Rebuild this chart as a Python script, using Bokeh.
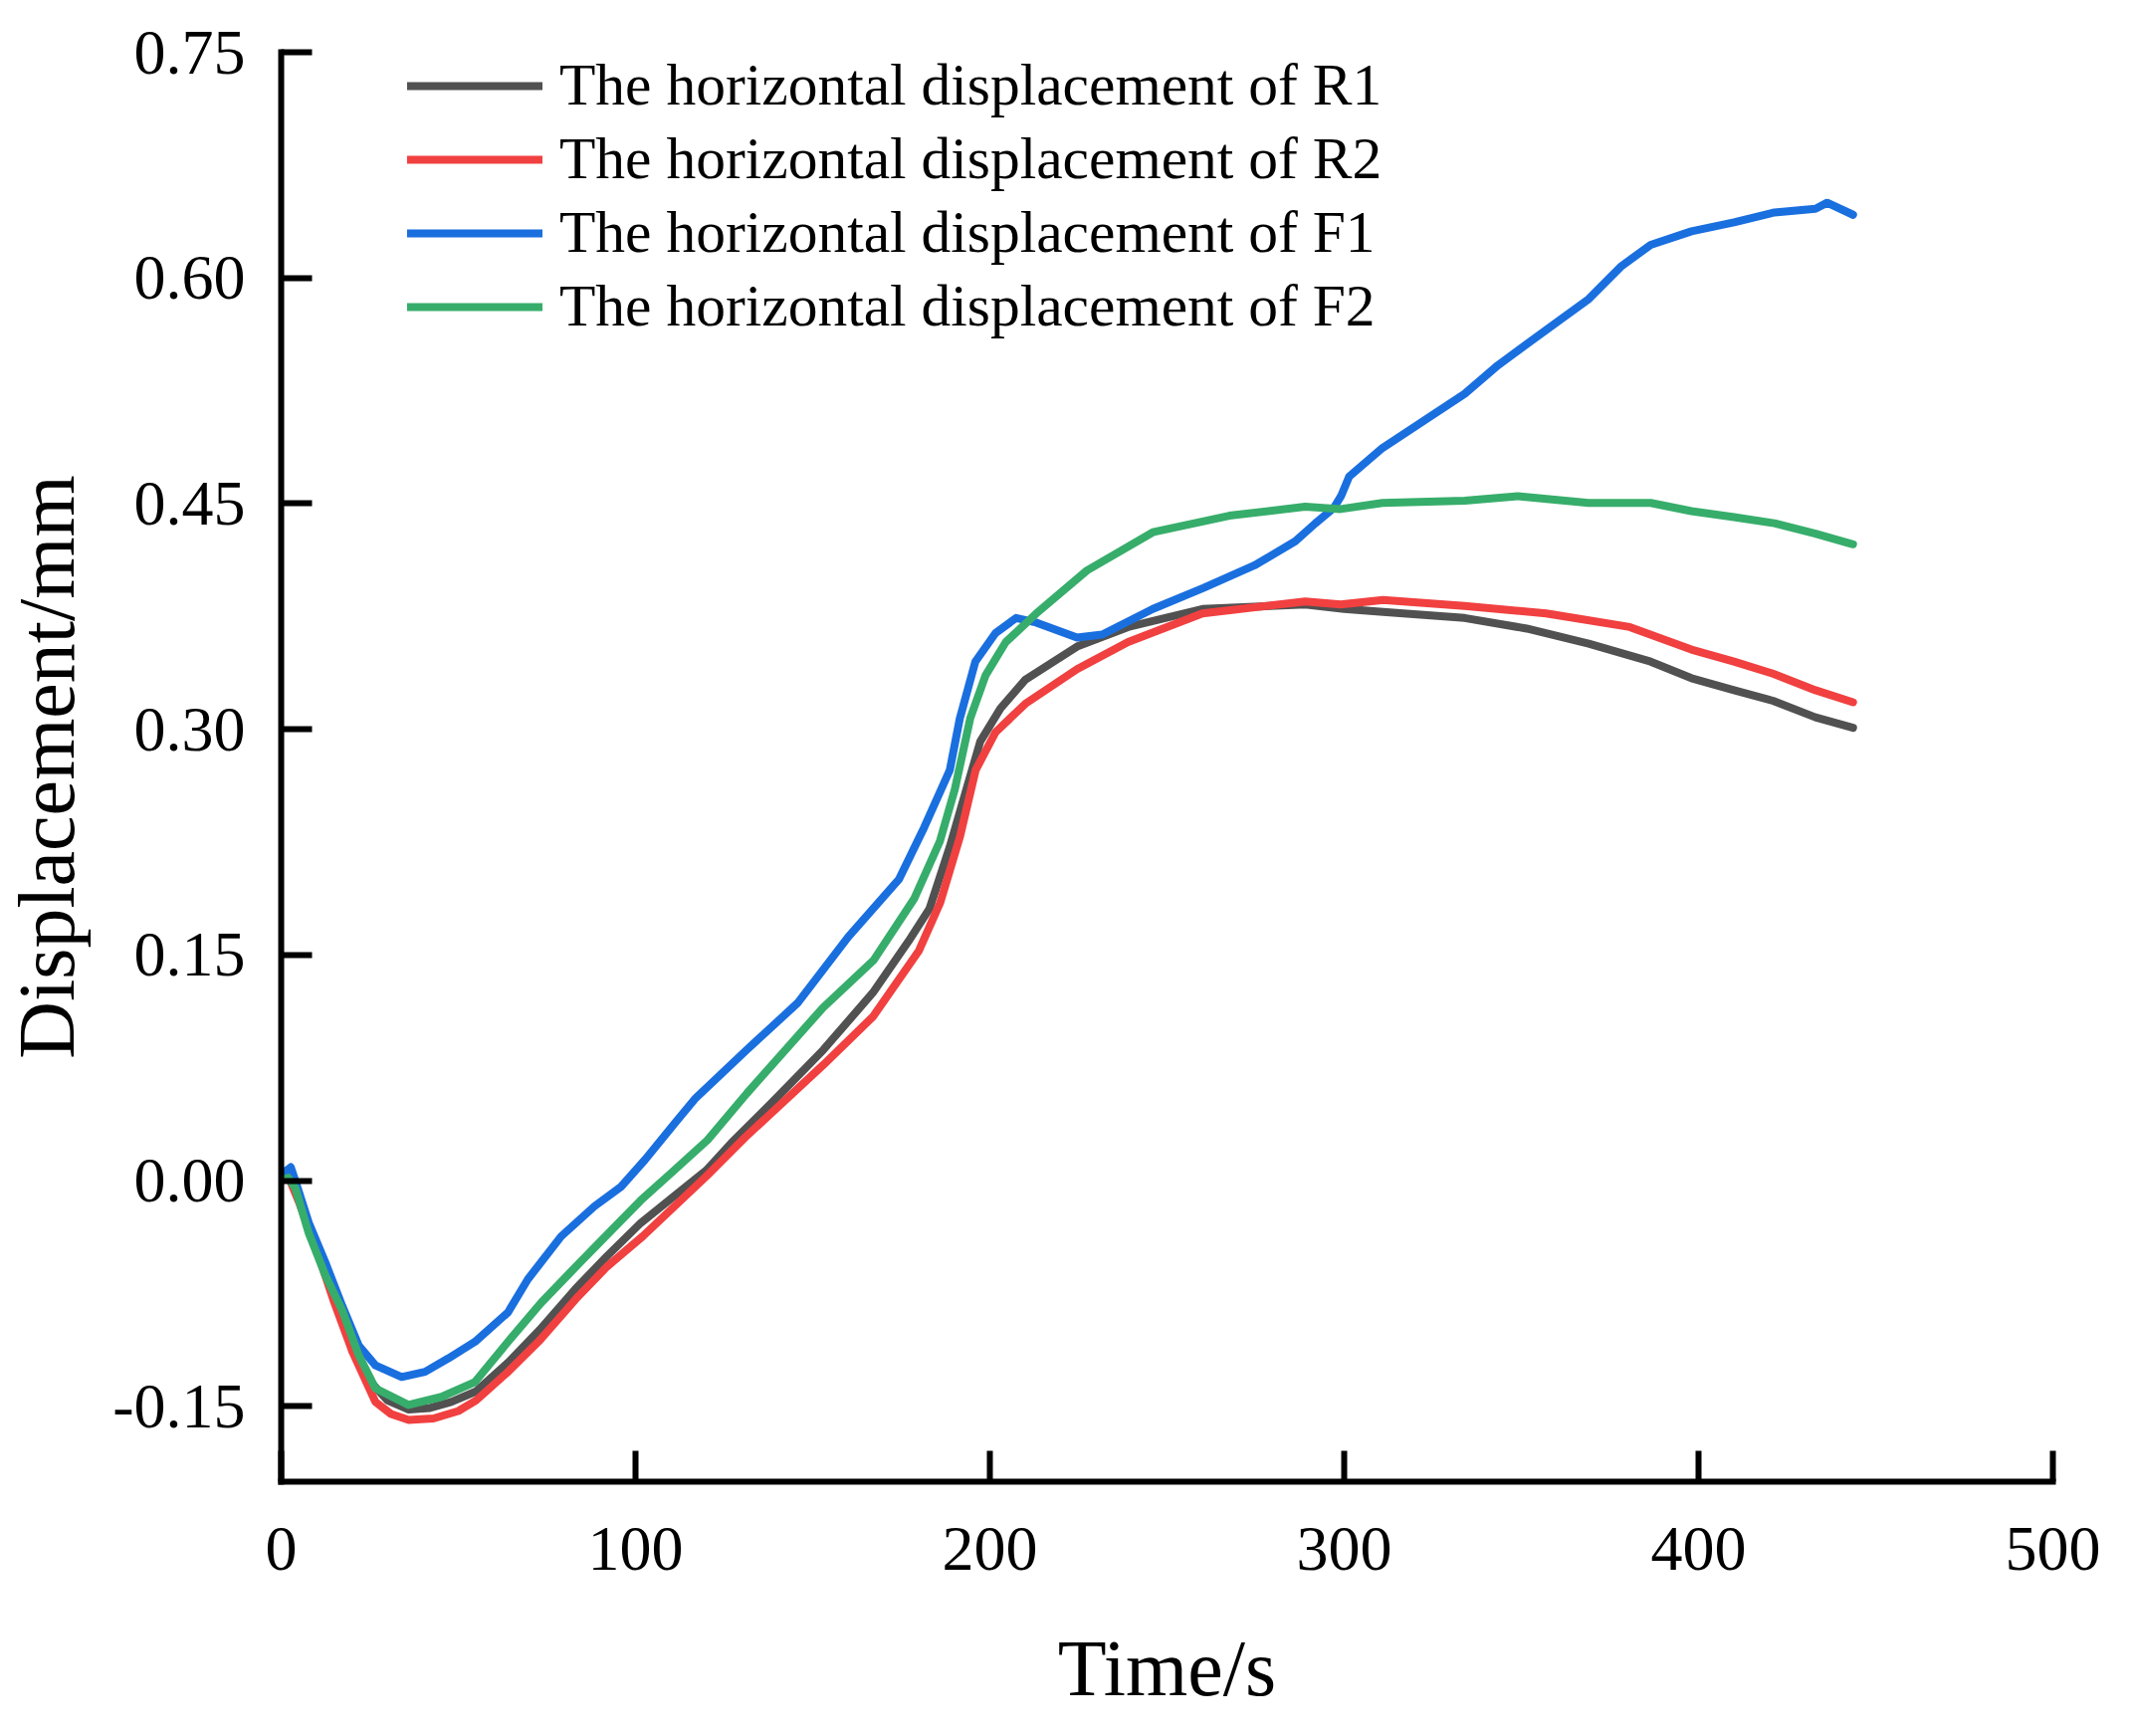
from bokeh.plotting import figure
from bokeh.models import Range1d, FixedTicker, NumeralTickFormatter, Legend, LegendItem
from bokeh.embed import file_html
from bokeh.resources import INLINE

# ---- data ----
t_r1 = [0, 2, 5, 10, 15, 20, 25, 30, 36, 42, 48, 55, 64, 73, 83, 92, 101.5, 111, 120, 127,
        138.5, 153, 167, 177, 183, 188.7, 193, 197.3, 203, 210, 224.6, 239, 260, 289, 300,
        311, 334, 351.5, 369, 386.5, 398, 410, 421, 433, 443.6]
v_r1 = [0.0, 0.004, -0.012, -0.043, -0.078, -0.110, -0.133, -0.146, -0.152, -0.151, -0.147,
        -0.140, -0.121, -0.099, -0.072, -0.050, -0.028, -0.010, 0.007, 0.025, 0.052, 0.087,
        0.125, 0.159, 0.181, 0.222, 0.257, 0.292, 0.314, 0.333, 0.355, 0.368, 0.380, 0.383,
        0.380, 0.378, 0.374, 0.367, 0.357, 0.345, 0.334, 0.326, 0.319, 0.308, 0.301]

t_r2 = [0, 2, 5, 10, 15, 20, 26.6, 31, 36, 43, 50, 55, 64, 73, 83, 92, 102, 111, 120, 131,
        153, 167, 180, 186, 191.6, 196, 201.6, 210, 224.6, 239, 260, 289, 299, 311, 334, 357,
        380.6, 398, 410, 421, 433, 443.6]
v_r2 = [0.0, 0.003, -0.014, -0.046, -0.081, -0.113, -0.147, -0.155, -0.159, -0.158, -0.153,
        -0.146, -0.127, -0.106, -0.079, -0.057, -0.037, -0.017, 0.003, 0.029, 0.077, 0.109,
        0.153, 0.185, 0.229, 0.273, 0.298, 0.317, 0.340, 0.358, 0.377, 0.385, 0.383, 0.386,
        0.382, 0.377, 0.368, 0.353, 0.345, 0.337, 0.326, 0.318]

t_f1 = [0, 1, 2.7, 4, 7.8, 12.5, 17.2, 21.9, 26.6, 34, 40.6, 47.2, 54.7, 64, 69.6, 79, 88.4,
        95.9, 102.7, 111, 117, 131.4, 145.7, 160, 174.4, 181.5, 188.7, 191.5, 195.9, 201.6,
        207.4, 213.1, 224.6, 231.7, 246, 260.3, 274.7, 286.2, 291.9, 297, 299.1, 301.4, 310.8,
        322.4, 334, 343.4, 351.5, 359.7, 369, 378.3, 386.5, 398, 410, 421.4, 433, 436.3, 443.6]
v_f1 = [0.0, 0.006, 0.009, 0.0, -0.028, -0.0545, -0.083, -0.1095, -0.1227, -0.1304, -0.127,
        -0.118, -0.107, -0.0875, -0.0655, -0.037, -0.017, -0.004, 0.014, 0.038, 0.055, 0.087,
        0.118, 0.162, 0.2005, 0.235, 0.273, 0.307, 0.345, 0.364, 0.374, 0.371, 0.361, 0.363,
        0.380, 0.394, 0.409, 0.425, 0.437, 0.447, 0.455, 0.468, 0.487, 0.505, 0.523, 0.542,
        0.556, 0.570, 0.586, 0.608, 0.622, 0.631, 0.637, 0.6435, 0.646, 0.650, 0.642]

t_f2 = [0, 2, 4, 7.8, 12.5, 17.2, 21.9, 26.6, 35.9, 45.3, 54.7, 64, 73.4, 82.8, 91.5, 101.5,
        110, 120.3, 131.4, 152.9, 167.2, 178.7, 185.9, 190.1, 194.5, 198.8, 204.5, 213.1, 227.4,
        246, 267.6, 289, 299, 310.8, 334, 349, 369, 386.5, 398, 410, 421.4, 433, 443.6]
v_f2 = [0.0, 0.002, -0.005, -0.035, -0.063, -0.086, -0.116, -0.138, -0.149, -0.1436, -0.1337,
        -0.107, -0.081, -0.058, -0.037, -0.013, 0.005, 0.027, 0.058, 0.115, 0.1466, 0.1877,
        0.2256, 0.260, 0.3076, 0.336, 0.358, 0.377, 0.4056, 0.431, 0.442, 0.448, 0.4464, 0.4505,
        0.452, 0.455, 0.4505, 0.4505, 0.445, 0.441, 0.437, 0.430, 0.423]

labels = ["The horizontal displacement of R1", "The horizontal displacement of R2",
          "The horizontal displacement of F1", "The horizontal displacement of F2"]
colors = ["#515151", "#F14040", "#1A6FDF", "#37AD6B"]

x_ticks = [0, 100, 200, 300, 400, 500]
y_ticks = [-0.15, 0.0, 0.15, 0.30, 0.45, 0.60, 0.75]

FONT = "Liberation Serif"

p = figure(frame_width=1780, frame_height=1436, output_backend="svg", toolbar_location=None,
           x_range=Range1d(0, 500), y_range=Range1d(-0.2, 0.75),
           min_border_left=279, min_border_top=52, min_border_right=60, min_border_bottom=234)
p.outline_line_color = None
p.xgrid.visible = False
p.ygrid.visible = False
p.background_fill_color = "white"
p.border_fill_color = "white"

series = [(t_r1, v_r1), (t_r2, v_r2), (t_f1, v_f1), (t_f2, v_f2)]
renderers = []
for (tx, vy), c in zip(series, colors):
    r = p.line(tx, vy, line_color=c, line_width=8, line_join="round", line_cap="round")
    renderers.append(r)

for ax in (p.xaxis[0], p.yaxis[0]):
    ax.axis_line_width = 6
    ax.axis_line_color = "black"
    ax.axis_line_cap = "square"
    ax.major_tick_line_width = 6
    ax.major_tick_line_color = "black"
    ax.major_tick_in = 31
    ax.major_tick_out = 0
    ax.minor_tick_in = 0
    ax.minor_tick_out = 0
    ax.major_label_text_font = FONT
    ax.major_label_text_font_size = "64px"
    ax.major_label_text_color = "black"
    ax.axis_label_text_font = FONT
    ax.axis_label_text_font_style = "normal"
    ax.axis_label_text_color = "black"

p.xaxis[0].ticker = FixedTicker(ticks=x_ticks)
p.yaxis[0].ticker = FixedTicker(ticks=y_ticks)
p.yaxis[0].formatter = NumeralTickFormatter(format="0.00")
p.xaxis[0].axis_label = "Time/s"
p.yaxis[0].axis_label = "Displacement/mm"
p.xaxis[0].axis_label_text_font_size = "80px"
p.yaxis[0].axis_label_text_font_size = "80px"
p.xaxis[0].major_label_standoff = 46
p.yaxis[0].major_label_standoff = 36
p.xaxis[0].axis_label_standoff = 52
p.yaxis[0].axis_label_standoff = 19

items = [LegendItem(label=lab, renderers=[r]) for lab, r in zip(labels, renderers)]
legend = Legend(items=items, location=(127, 1146), orientation="vertical",
                glyph_width=136, glyph_height=66, label_height=66, spacing=5,
                label_standoff=17, padding=0, margin=0,
                label_text_font=FONT, label_text_font_size="59.5px", label_text_color="black",
                border_line_color=None, background_fill_alpha=0)
p.add_layout(legend)

open("out.html", "w").write(file_html(p, INLINE))
